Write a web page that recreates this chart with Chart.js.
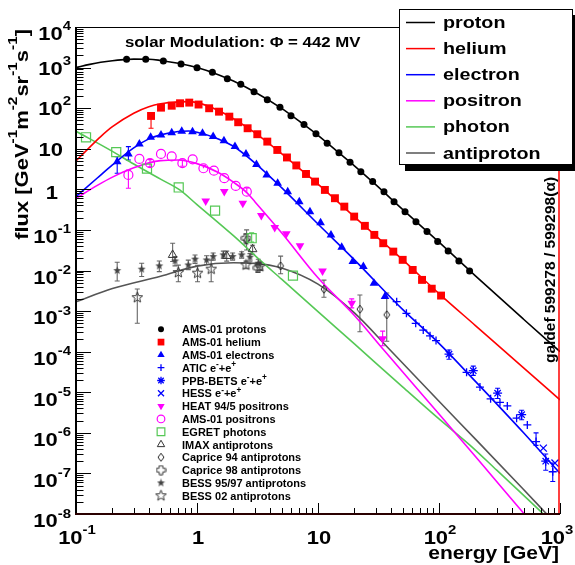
<!DOCTYPE html>
<html>
<head>
<meta charset="utf-8">
<title>Cosmic ray spectra</title>
<script src="https://cdn.jsdelivr.net/npm/chart.js@4.4.1/dist/chart.umd.min.js"></script>
<style>
  html, body { margin: 0; padding: 0; background: #fff; }
  #wrap { width: 575px; height: 565px; position: relative; }
</style>
</head>
<body>
<div id="wrap"><canvas id="fluxChart"></canvas></div>
<script>
// model curves (energy in GeV, flux)
const protonLineE = [0.1, 0.13, 0.16, 0.2, 0.25, 0.3, 0.4, 0.5, 0.7, 1, 1.5, 2, 3, 5, 7, 10, 15, 20, 30, 50, 100, 200, 500, 1000];
const protonLineF = [1000, 1200, 1350, 1480, 1570, 1620, 1610, 1500, 1280, 1000, 670, 465, 250, 99, 48, 21.5, 7.8, 3.8, 1.3, 0.32, 0.05, 0.0074, 0.00063, 0.0001];
const heliumLineE = [0.1, 0.13, 0.16, 0.2, 0.3, 0.4, 0.5, 0.7, 0.85, 1, 1.5, 2, 3, 5, 7, 10, 20, 50, 100, 200, 500, 1000];
const heliumLineF = [5, 11, 20, 35, 75, 108, 128, 143, 145, 137, 88, 55, 25, 7.6, 3.3, 1.35, 0.21, 0.0185, 0.0027, 4.4e-4, 4.0e-5, 6.5e-6];
const electronLineE = [0.1, 0.15, 0.2, 0.3, 0.4, 0.5, 0.7, 0.85, 1, 1.5, 2, 3, 5, 10, 20, 50, 100, 200, 500, 1000];
const electronLineF = [0.66, 1.9, 4.0, 10.5, 17.5, 22, 26.5, 27.3, 25.5, 17.5, 11.5, 4.5, 1.1, 0.14, 0.0183, 0.0011, 1.6e-4, 1.85e-5, 1.0e-6, 1.0e-7];
const positronLineE = [0.1, 0.15, 0.2, 0.3, 0.5, 0.7, 1, 1.5, 2, 2.58, 3, 5, 10, 20, 35, 100, 200, 507, 1000];
const positronLineF = [0.6, 1.25, 2.0, 3.4, 5.1, 5.3, 4.3, 2.6, 1.5, 0.83, 0.5, 0.085, 0.0066, 7.8e-4, 1.1e-4, 2.9e-6, 2.6e-7, 1e-8, 1e-9];
const photonLineE = [0.1, 0.2, 0.3, 0.5, 0.72, 1, 2, 3.32, 5, 10, 20, 50, 100, 180, 300, 728, 1000];
const photonLineF = [27, 8.6, 4.2, 1.78, 0.97, 0.42, 0.072, 0.018, 6.1e-3, 9.7e-4, 1.55e-4, 1.36e-5, 2.2e-6, 5e-7, 1.2e-7, 1e-8, 4e-9];
const antiLineE = [0.1, 0.2, 0.5, 1, 2, 3, 5, 10, 20, 40, 100, 200, 500, 776, 1000];
const antiLineF = [1.7e-3, 3.6e-3, 7.2e-3, 0.0128, 0.0155, 0.015, 0.0115, 4.6e-3, 9e-4, 1.05e-4, 6e-6, 7e-7, 4e-8, 1e-8, 4.5e-9];

// measurements
const amsProtonE = [0.262, 0.377, 0.527, 0.738, 1.0, 1.34, 1.78, 2.30, 2.96, 3.81, 4.85, 5.98, 7.66, 9.62, 11.9, 14.9, 18.4, 22.6, 28.3, 35.1, 42.5, 52.4, 64.5, 79.6, 97.5, 119, 146, 179];
const amsProtonF = [1600, 1600, 1455, 1230, 995, 766, 533, 388, 255, 162, 105, 65, 39.7, 23.4, 13.7, 8.0, 4.65, 2.73, 1.55, 0.878, 0.497, 0.282, 0.160, 0.0908, 0.0515, 0.0304, 0.0172, 0.00977];
const amsHeliumE = [0.417, 0.504, 0.618, 0.724, 0.863, 1.03, 1.26, 1.52, 1.85, 2.19, 2.62, 3.15, 3.81, 4.61, 5.54, 6.62, 7.96, 9.45, 11.4, 13.8, 16.5, 19.9, 24.4, 29.2, 34.6, 41.9, 50.1, 60.6, 72.4, 87.1, 104];
const amsHeliumF = [64.3, 103, 115, 132, 137, 123, 99.5, 82, 61.8, 45, 32, 22.8, 15, 9.34, 6.1, 3.88, 2.39, 1.55, 0.967, 0.604, 0.375, 0.213, 0.126, 0.0754, 0.047, 0.0292, 0.0183, 0.0103, 0.00587, 0.00356, 0.00241];
const amsHeliumLo = [32];
const amsHeliumHi = [70];
const amsElectronE = [0.219, 0.271, 0.334, 0.414, 0.504, 0.618, 0.748, 0.918, 1.11, 1.36, 1.67, 2.06, 2.54, 3.10, 3.77, 4.64, 5.62, 7.0, 8.58, 10.5, 12.8, 15.7, 19.4, 23.7, 29, 35.8];
const amsElectronF = [4.81, 7.45, 13.1, 19.2, 21.9, 24.9, 27.1, 26.4, 24.1, 19.9, 15.8, 11.3, 7.45, 4.1, 2.26, 1.41, 0.877, 0.497, 0.282, 0.151, 0.0753, 0.0375, 0.0166, 0.0125, 0.00486, 0.00228];
const amsElectronLo = [2.5, 5.3];
const amsElectronHi = [6.4, 11.3];
const aticE = [44.7, 53.8, 64.2, 74.1, 84.3, 94.5, 169, 218, 267, 319, 367, 438, 537, 634, 871];
const aticF = [1.71e-3, 8.8e-4, 5.0e-4, 3.4e-4, 2.45e-4, 1.88e-4, 3.1e-5, 1.34e-5, 6.9e-6, 5.6e-6, 4.6e-6, 2.3e-6, 1.57e-6, 6.1e-7, 1.1e-7];
const aticLo = [null, null, null, null, null, null, null, null, null, null, null, null, null, 4.9e-7, 6.3e-8];
const aticHi = [null, null, null, null, null, null, null, null, null, null, null, null, null, 1.0e-6, 1.8e-7];
const ppbE = [121, 192, 305, 482, 762];
const ppbF = [8.7e-5, 3.4e-5, 9.5e-6, 2.8e-6, 2.0e-7];
const ppbLo = [6.5e-5, 2.6e-5, 7e-6, 2.1e-6, 1.2e-7];
const ppbHi = [1.1e-4, 4.4e-5, 1.25e-5, 3.6e-6, 3.0e-7];
const hessE = [728, 909];
const hessF = [4.2e-7, 1.8e-7];
const heatE = [1.18, 1.68, 2.39, 3.40, 4.39, 5.47, 7.1, 10.9, 19, 34.2];
const heatF = [0.518, 0.888, 0.455, 0.225, 0.115, 0.0806, 0.0408, 0.00977, 0.00157, 2.07e-4];
const heatLo = [null, null, null, null, null, null, null, null, 1.2e-3, 1.4e-4];
const heatHi = [null, null, null, null, null, null, null, null, 2.0e-3, 3.2e-4];
const amsPositronE = [0.271, 0.334, 0.409, 0.504, 0.618, 0.757, 0.921, 1.13, 1.38, 1.68, 2.09, 2.58];
const amsPositronF = [2.26, 5.6, 4.4, 7.45, 6.46, 4.4, 5.5, 3.31, 2.89, 1.88, 1.21, 0.878];
const amsPositronLo = [1.06, null, 3.6, null, null, 3.7, null, null, null, null, null, null];
const amsPositronHi = [3.0, null, 5.4, null, null, 5.3, null, 3.9, null, null, null, 1.08];
const egretE = [0.121, 0.215, 0.386, 0.706, 1.41, 2.83, 6.21];
const egretF = [19.2, 8.25, 3.24, 1.11, 0.299, 0.0625, 0.00745];
const egretLo = [null, null, null, null, null, 0.05, null];
const egretHi = [null, null, null, null, null, 0.085, null];
const imaxE = [0.629, 1.76, 2.88];
const imaxF = [0.0242, 0.0229, 0.0335];
const imaxLo = [0.0166, 0.017, 0.025];
const imaxHi = [0.047, 0.03, 0.042];
const caprice94E = [2.57, 4.91, 11.2, 22.2, 37];
const caprice94F = [0.0567, 0.013, 3.46e-3, 1.11e-3, 8.1e-4];
const caprice94Lo = [0.032, 0.0083, 2.2e-3, 3.1e-4, 1.8e-4];
const caprice94Hi = [0.1, 0.0226, 5.8e-3, 2.5e-3, 2.8e-3];
const caprice98E = [2.54, 3.19];
const caprice98F = [0.0625, 0.0116];
const caprice98Lo = [0.045, 0.009];
const caprice98Hi = [0.08, 0.015];
const bess97E = [0.219, 0.349, 0.488, 0.658, 0.847, 0.963, 1.2, 1.36, 1.65, 1.97, 2.34, 2.74, 3.21];
const bess97F = [9.95e-3, 0.0108, 0.013, 0.0172, 0.0137, 0.019, 0.0182, 0.022, 0.0242, 0.022, 0.0242, 0.0213, 0.0151];
const bess97Lo = [5.5e-3, 7.1e-3, 9.4e-3, 0.013, 0.0105, 0.015, 0.014, 0.018, 0.02, 0.018, 0.02, 0.017, 0.012];
const bess97Hi = [0.016, 0.0151, 0.0171, 0.022, 0.018, 0.024, 0.023, 0.027, 0.03, 0.027, 0.029, 0.026, 0.019];
const bess02E = [0.321, 0.701, 1.01, 1.31, 2.54, 3.31];
const bess02F = [2.15e-3, 8.9e-3, 8.6e-3, 0.0108, 0.0137, 0.0125];
const bess02Lo = [5e-4, 5.3e-3, 5.3e-3, 5.3e-3, 0.011, 0.01];
const bess02Hi = [3.5e-3, 0.0136, 0.0135, 0.018, 0.017, 0.0155];

// axis tick labels (decade exponents)
const xTickExp = [-1, 0, 1, 2, 3];
const yTickExp = [4, 3, 2, 1, 0, -1, -2, -3, -4, -5, -6, -7, -8];

const pts = (E, F) => E.map((e, i) => ({ x: e, y: F[i] }));

// small custom marker bitmaps
function markerCanvas(size, draw) {
    const c = document.createElement("canvas");
    c.width = size; c.height = size;
    draw(c.getContext("2d"), size / 2);
    return c;
}
function starPath(g, c, R, r) {
    g.beginPath();
    for (let k = 0; k < 10; k++) {
        const a = -Math.PI / 2 + k * Math.PI / 5;
        const rr = k % 2 ? r : R;
        g.lineTo(c + rr * Math.cos(a), c + rr * Math.sin(a));
    }
    g.closePath();
}
const starFilled = markerCanvas(9, (g, c) => { starPath(g, c, 4.2, 1.8); g.fillStyle = "#444"; g.fill(); });
const starOpen = markerCanvas(13, (g, c) => { starPath(g, c, 5.6, 2.4); g.strokeStyle = "#333"; g.lineWidth = 1; g.stroke(); });
const diamondOpen = markerCanvas(10, (g, c) => {
    g.beginPath(); g.moveTo(c, 1); g.lineTo(c + 3, c); g.lineTo(c, 9); g.lineTo(c - 3, c); g.closePath();
    g.strokeStyle = "#222"; g.lineWidth = 1; g.stroke();
});
const crossOpen = markerCanvas(11, (g, c) => {
    const a = 1.8, b = 4.5;
    g.beginPath();
    g.moveTo(c - a, c - b); g.lineTo(c + a, c - b); g.lineTo(c + a, c - a); g.lineTo(c + b, c - a);
    g.lineTo(c + b, c + a); g.lineTo(c + a, c + a); g.lineTo(c + a, c + b); g.lineTo(c - a, c + b);
    g.lineTo(c - a, c + a); g.lineTo(c - b, c + a); g.lineTo(c - b, c - a); g.lineTo(c - a, c - a);
    g.closePath(); g.strokeStyle = "#333"; g.lineWidth = 1; g.stroke();
});

const GREEN = "#55c855";
const GRAY = "#555555";

function curve(label, E, F, color) {
    return {
        label: label, data: pts(E, F), showLine: true, borderColor: color, borderWidth: 1.6,
        pointRadius: 0, cubicInterpolationMode: "monotone", order: 5
    };
}
function marks(label, E, F, style, lo, hi) {
    return Object.assign({ label: label, data: pts(E, F), showLine: false, order: 0, errLo: lo, errHi: hi }, style);
}

const markerSets = [
    marks("AMS-01 protons", amsProtonE, amsProtonF, { pointStyle: "circle", pointRadius: 3.5, pointBackgroundColor: "#000", pointBorderColor: "#000", pointBorderWidth: 0 }),
    marks("AMS-01 helium", amsHeliumE, amsHeliumF, { pointStyle: "rect", pointRadius: 5.6, pointBackgroundColor: "#f00", pointBorderColor: "#f00", pointBorderWidth: 0 }, amsHeliumLo, amsHeliumHi),
    marks("AMS-01 electrons", amsElectronE, amsElectronF, { pointStyle: "triangle", pointRadius: 5, pointBackgroundColor: "#00f", pointBorderColor: "#00f", pointBorderWidth: 0 }, amsElectronLo, amsElectronHi),
    marks("ATIC e-+e+", aticE, aticF, { pointStyle: "cross", pointRadius: 4, pointBackgroundColor: "#00f", pointBorderColor: "#00f", pointBorderWidth: 1.3 }, aticLo, aticHi),
    marks("PPB-BETS e-+e+", ppbE, ppbF, { pointStyle: "star", pointRadius: 4.5, pointBackgroundColor: "#00f", pointBorderColor: "#00f", pointBorderWidth: 1.3 }, ppbLo, ppbHi),
    marks("HESS e-+e+", hessE, hessF, { pointStyle: "crossRot", pointRadius: 5, pointBackgroundColor: "#00f", pointBorderColor: "#00f", pointBorderWidth: 1.3 }),
    marks("HEAT 94/5 positrons", heatE, heatF, { pointStyle: "triangle", pointRotation: 180, pointRadius: 5, pointBackgroundColor: "#f0f", pointBorderColor: "#f0f", pointBorderWidth: 0 }, heatLo, heatHi),
    marks("AMS-01 positrons", amsPositronE, amsPositronF, { pointStyle: "circle", pointRadius: 4.5, pointBackgroundColor: "rgba(0,0,0,0)", pointBorderColor: "#f0f", pointBorderWidth: 1.2 }, amsPositronLo, amsPositronHi),
    marks("EGRET photons", egretE, egretF, { pointStyle: "rect", pointRadius: 6.4, pointBackgroundColor: "rgba(0,0,0,0)", pointBorderColor: GREEN, pointBorderWidth: 1.2 }, egretLo, egretHi),
    marks("IMAX antiprotons", imaxE, imaxF, { pointStyle: "triangle", pointRadius: 5, pointBackgroundColor: "rgba(0,0,0,0)", pointBorderColor: "#333", pointBorderWidth: 1 }, imaxLo, imaxHi),
    marks("Caprice 94 antiprotons", caprice94E, caprice94F, { pointStyle: diamondOpen, pointRadius: 4 }, caprice94Lo, caprice94Hi),
    marks("Caprice 98 antiprotons", caprice98E, caprice98F, { pointStyle: crossOpen, pointRadius: 4 }, caprice98Lo, caprice98Hi),
    marks("BESS 95/97 antiprotons", bess97E, bess97F, { pointStyle: starFilled, pointRadius: 4 }, bess97Lo, bess97Hi),
    marks("BESS 02 antiprotons", bess02E, bess02F, { pointStyle: starOpen, pointRadius: 4 }, bess02Lo, bess02Hi)
];

const lineSets = [
    curve("proton", protonLineE, protonLineF, "#000"),
    curve("helium", heliumLineE, heliumLineF, "#f00"),
    curve("electron", electronLineE, electronLineF, "#00f"),
    curve("positron", positronLineE, positronLineF, "#f0f"),
    curve("photon", photonLineE, photonLineF, GREEN),
    curve("antiproton", antiLineE, antiLineF, GRAY)
];

const FONT = '"Liberation Sans", Arial, Helvetica, sans-serif';
function font(size) { return "bold " + size + "px " + FONT; }

// draw text made of [string, isSuperscript] pieces
function drawRich(ctx, parts, x, y, size, opt) {
    const o = Object.assign({ sx: 1, align: "left", rot: 0, supScale: 0.68, raise: 0.5 }, opt);
    ctx.save();
    ctx.translate(x, y);
    if (o.rot) ctx.rotate(o.rot);
    ctx.scale(o.sx, 1);
    ctx.textAlign = "left";
    ctx.textBaseline = "alphabetic";
    const widths = parts.map(p => { ctx.font = font(p[1] ? size * o.supScale : size); return ctx.measureText(p[0]).width; });
    const total = widths.reduce((a, b) => a + b, 0);
    let cx = o.align === "right" ? -total : o.align === "center" ? -total / 2 : 0;
    parts.forEach((p, i) => {
        ctx.font = font(p[1] ? size * o.supScale : size);
        ctx.fillText(p[0], cx, p[1] ? -size * o.raise : 0);
        cx += widths[i];
    });
    ctx.restore();
}
function decadeParts(e) {
    if (e === 0) return [["1", false]];
    if (e === 1) return [["10", false]];
    return [["10", false], [String(e), true]];
}

const errorBars = {
    id: "errorBars",
    beforeDatasetsDraw(chart) {
        const ctx = chart.ctx, xs = chart.scales.x, ys = chart.scales.y, a = chart.chartArea;
        ctx.save();
        ctx.beginPath();
        ctx.rect(a.left, a.top, a.right - a.left, a.bottom - a.top);
        ctx.clip();
        chart.data.datasets.forEach(ds => {
            if (!ds.errLo) return;
            const col = ds.pointBorderColor && typeof ds.pointStyle === "string" ? ds.pointBorderColor : "#666";
            ctx.strokeStyle = col === "#000" || col === "#333" ? "#666" : col;
            ctx.lineWidth = 1.1;
            ds.data.forEach((p, i) => {
                const lo = ds.errLo[i], hi = ds.errHi[i];
                if (lo == null && hi == null) return;
                const px = xs.getPixelForValue(p.x);
                const y0 = ys.getPixelForValue(lo != null ? lo : p.y);
                const y1 = ys.getPixelForValue(hi != null ? hi : p.y);
                ctx.beginPath();
                ctx.moveTo(px, y0); ctx.lineTo(px, y1);
                if (lo != null) { ctx.moveTo(px - 2.5, y0); ctx.lineTo(px + 2.5, y0); }
                if (hi != null) { ctx.moveTo(px - 2.5, y1); ctx.lineTo(px + 2.5, y1); }
                ctx.stroke();
            });
        });
        ctx.restore();
    }
};

const rootDecor = {
    id: "rootDecor",
    afterDraw(chart) {
        const ctx = chart.ctx, xs = chart.scales.x, ys = chart.scales.y, a = chart.chartArea;
        ctx.save();
        ctx.fillStyle = "#000";
        ctx.strokeStyle = "#000";

        // y ticks
        ctx.lineWidth = 1;
        for (let d = -8; d <= 4; d++) {
            const y = Math.round(ys.getPixelForValue(Math.pow(10, d))) + 0.5;
            ctx.beginPath(); ctx.moveTo(a.left, y); ctx.lineTo(a.left + 15, y); ctx.stroke();
            if (d === 4) continue;
            for (let m = 2; m <= 9; m++) {
                const ym = Math.round(ys.getPixelForValue(m * Math.pow(10, d))) + 0.5;
                ctx.beginPath(); ctx.moveTo(a.left, ym); ctx.lineTo(a.left + 7.5, ym); ctx.stroke();
            }
        }
        // x ticks
        for (let d = -1; d <= 3; d++) {
            const x = Math.round(xs.getPixelForValue(Math.pow(10, d))) + 0.5;
            ctx.beginPath(); ctx.moveTo(x, a.bottom); ctx.lineTo(x, a.bottom - 11); ctx.stroke();
            if (d === 3) continue;
            for (let m = 2; m <= 9; m++) {
                const xm = Math.round(xs.getPixelForValue(m * Math.pow(10, d))) + 0.5;
                ctx.beginPath(); ctx.moveTo(xm, a.bottom); ctx.lineTo(xm, a.bottom - 6); ctx.stroke();
            }
        }

        // frame
        ctx.lineWidth = 1;
        ctx.beginPath(); ctx.moveTo(a.left, a.top + 0.5); ctx.lineTo(a.right, a.top + 0.5); ctx.stroke();
        ctx.strokeStyle = "#f00"; ctx.lineWidth = 1.5;
        ctx.beginPath(); ctx.moveTo(a.right - 1, a.top); ctx.lineTo(a.right - 1, a.bottom); ctx.stroke();
        ctx.strokeStyle = "#000"; ctx.lineWidth = 2;
        ctx.beginPath(); ctx.moveTo(a.left, a.top); ctx.lineTo(a.left, a.bottom); ctx.stroke();
        ctx.strokeStyle = "#2a0000";
        ctx.beginPath(); ctx.moveTo(a.left - 1, a.bottom); ctx.lineTo(a.right, a.bottom); ctx.stroke();

        // tick labels
        ctx.fillStyle = "#000";
        yTickExp.forEach(e => {
            const y = ys.getPixelForValue(Math.pow(10, e));
            const off = e < 0 ? 13.4 : e === 4 ? 13.3 : e === 0 ? 9.9 : 7.2;
            const right = e === 0 ? 58 : e === 1 ? 63 : 71;
            drawRich(ctx, decadeParts(e), right, y + off, 18, { sx: 1.22, align: "right", raise: 0.55 });
        });
        xTickExp.forEach(e => {
            const x = xs.getPixelForValue(Math.pow(10, e));
            drawRich(ctx, decadeParts(e), x + (e === 3 ? -3 : 1), a.bottom + 30, 18, { sx: 1.22, align: "center", raise: 0.55 });
        });

        // axis titles
        drawRich(ctx, [["energy [GeV]", false]], 559, 559, 17.5, { sx: 1.2, align: "right" });
        drawRich(ctx, [["flux [GeV", false], ["-1", true], ["m", false], ["-2", true], ["sr", false], ["-1", true], ["s", false], ["-1", true], ["]", false]],
            28, 29, 18, { sx: 1.22, align: "right", rot: -Math.PI / 2, raise: 0.62, supScale: 0.7 });

        // title and run tag
        drawRich(ctx, [["solar Modulation: \u03A6 = 442 MV", false]], 125, 46.5, 14, { sx: 1.2 });
        drawRich(ctx, [["galdef 599278 / 599298(\u03B1)", false]], 555, 270, 15.5, { align: "center", rot: -Math.PI / 2 });

        // data legend inside the frame
        markerSets.forEach((ds, i) => {
            const y = 329.3 + i * 12.8;
            ctx.save();
            ctx.fillStyle = ds.pointBackgroundColor || "#000";
            ctx.strokeStyle = ds.pointBorderColor || "#000";
            ctx.lineWidth = ds.pointBorderWidth || 0;
            Chart.helpers.drawPoint(ctx, {
                pointStyle: ds.pointStyle, radius: ds.pointRadius * 0.85,
                rotation: ds.pointRotation || 0, borderWidth: ds.pointBorderWidth || 0
            }, 161, y);
            ctx.restore();
            let parts = [[ds.label, false]];
            const m = ds.label.match(/^(.*) e-\+e\+$/);
            if (m) parts = [[m[1] + " e", false], ["-", true], ["+e", false], ["+", true]];
            drawRich(ctx, parts, 182, y + 4, 11, { raise: 0.4, supScale: 0.75 });
        });

        // model legend box (top right)
        ctx.fillStyle = "#000";
        ctx.fillRect(405, 15, 175, 156);
        ctx.fillStyle = "#fff";
        ctx.fillRect(399, 9, 174, 156);
        ctx.strokeStyle = "#000"; ctx.lineWidth = 1;
        ctx.strokeRect(399.5, 9.5, 173, 155);
        lineSets.forEach((ds, i) => {
            const y = 22.5 + i * 26.1;
            ctx.strokeStyle = ds.borderColor; ctx.lineWidth = 1.5;
            ctx.beginPath(); ctx.moveTo(406, y); ctx.lineTo(435, y); ctx.stroke();
            ctx.fillStyle = "#000";
            drawRich(ctx, [[ds.label, false]], 443, y + 5.5, 17, { sx: 1.16 });
        });
        ctx.restore();
    }
};

new Chart(document.getElementById("fluxChart").getContext("2d"), {
    type: "scatter",
    data: { datasets: markerSets.concat(lineSets) },
    options: {
        responsive: true,
        maintainAspectRatio: false,
        animation: false,
        layout: { padding: { left: 76, right: 15, top: 27, bottom: 51 } },
        plugins: { legend: { display: false }, tooltip: { enabled: false } },
        scales: {
            x: { type: "logarithmic", min: 0.1, max: 1000, display: false },
            y: { type: "logarithmic", min: 1e-8, max: 1e4, display: false }
        }
    },
    plugins: [errorBars, rootDecor]
});
</script>
</body>
</html>
